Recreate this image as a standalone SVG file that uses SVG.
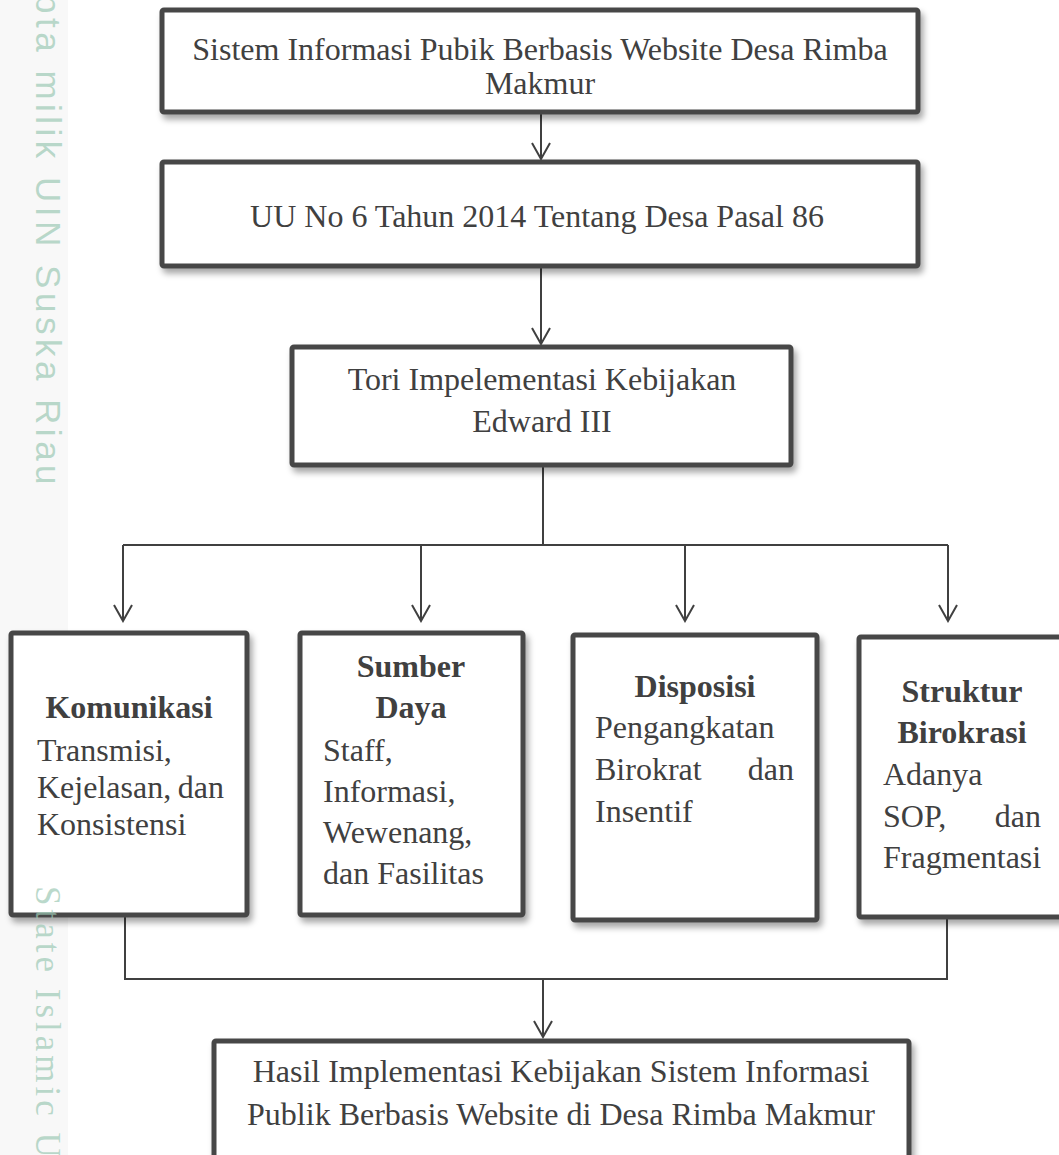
<svg xmlns="http://www.w3.org/2000/svg" width="1059" height="1155" viewBox="0 0 1059 1155">
<defs>
<filter id="sh" x="-10%" y="-10%" width="125%" height="130%">
<feDropShadow dx="3" dy="5" stdDeviation="3" flood-color="#000" flood-opacity="0.35"/>
</filter>
<marker id="ah" viewBox="-18 -11 20 22" refX="0" refY="0" markerWidth="20" markerHeight="22" markerUnits="userSpaceOnUse" orient="auto">
<path d="M-16,-9 L0,0 L-16,9" fill="none" stroke="#404040" stroke-width="2"/>
</marker>
</defs>
<style>
.box{fill:#fff;stroke:#464646;stroke-width:5;filter:url(#sh)}
.t{font-family:"Liberation Serif","Times New Roman",serif;font-size:32px;fill:#404040}
.c{text-anchor:middle}
.b{font-weight:bold}
.e{text-anchor:end}
.ln{fill:none;stroke:#404040;stroke-width:2}
.wm{font-size:35px;fill:#9cc8b4;fill-opacity:0.7}
</style>
<rect x="0" y="0" width="1059" height="1155" fill="#fff"/>
<rect x="0" y="0" width="68" height="1155" fill="#f8f8f8"/>
<g id="connectors">
<line class="ln" x1="541" y1="114" x2="541" y2="159" marker-end="url(#ah)"/>
<line class="ln" x1="541" y1="268" x2="541" y2="344" marker-end="url(#ah)"/>
<line class="ln" x1="543" y1="467" x2="543" y2="545"/>
<line class="ln" x1="123" y1="545" x2="948" y2="545"/>
<line class="ln" x1="123" y1="545" x2="123" y2="621" marker-end="url(#ah)"/>
<line class="ln" x1="421" y1="545" x2="421" y2="621" marker-end="url(#ah)"/>
<line class="ln" x1="685" y1="545" x2="685" y2="621" marker-end="url(#ah)"/>
<line class="ln" x1="948" y1="545" x2="948" y2="621" marker-end="url(#ah)"/>
<line class="ln" x1="125" y1="917" x2="125" y2="979"/>
<line class="ln" x1="947" y1="919" x2="947" y2="979"/>
<line class="ln" x1="124" y1="979" x2="948" y2="979"/>
<line class="ln" x1="543" y1="979" x2="543" y2="1037" marker-end="url(#ah)"/>
</g>
<g id="n1">
<rect class="box" x="162" y="10" width="756" height="102" rx="2"/>
<text class="t c" x="540" y="60">Sistem Informasi Pubik Berbasis Website Desa Rimba</text>
<text class="t c" x="540" y="94">Makmur</text>
</g>
<g id="n2">
<rect class="box" x="162" y="162" width="756" height="104" rx="2"/>
<text class="t c" x="537" y="227">UU No 6 Tahun 2014 Tentang Desa Pasal 86</text>
</g>
<g id="n3">
<rect class="box" x="292" y="347" width="499" height="118" rx="2"/>
<text class="t c" x="542" y="390">Tori Impelementasi Kebijakan</text>
<text class="t c" x="542" y="432">Edward III</text>
</g>
<g id="n4">
<rect class="box" x="11" y="633" width="236" height="282" rx="2"/>
<text class="t c b" x="129" y="718">Komunikasi</text>
<text class="t" x="37" y="761">Transmisi,</text>
<text class="t" x="37" y="798">Kejelasan,</text>
<text class="t e" x="224" y="798">dan</text>
<text class="t" x="37" y="835">Konsistensi</text>
</g>
<g id="n5">
<rect class="box" x="300" y="633" width="223" height="282" rx="2"/>
<text class="t c b" x="411" y="677">Sumber</text>
<text class="t c b" x="411" y="718">Daya</text>
<text class="t" x="323" y="761">Staff,</text>
<text class="t" x="323" y="802">Informasi,</text>
<text class="t" x="323" y="843">Wewenang,</text>
<text class="t" x="323" y="884">dan Fasilitas</text>
</g>
<g id="n6">
<rect class="box" x="573" y="635" width="244" height="285" rx="2"/>
<text class="t c b" x="695" y="697">Disposisi</text>
<text class="t" x="595" y="738">Pengangkatan</text>
<text class="t" x="595" y="780">Birokrat</text>
<text class="t e" x="794" y="780">dan</text>
<text class="t" x="595" y="822">Insentif</text>
</g>
<g id="n7">
<rect class="box" x="859" y="637" width="210" height="280" rx="2"/>
<text class="t c b" x="962" y="702">Struktur</text>
<text class="t c b" x="962" y="743">Birokrasi</text>
<text class="t" x="883" y="785">Adanya</text>
<text class="t" x="883" y="827">SOP,</text>
<text class="t e" x="1041" y="827">dan</text>
<text class="t" x="883" y="868">Fragmentasi</text>
</g>
<g id="n8">
<rect class="box" x="214" y="1041" width="695" height="140" rx="2"/>
<text class="t c" x="561" y="1082">Hasil Implementasi Kebijakan Sistem Informasi</text>
<text class="t c" x="561" y="1125">Publik Berbasis Website di Desa Rimba Makmur</text>
</g>
<g id="watermark">
<text class="wm" font-family="Liberation Sans, Arial, sans-serif" letter-spacing="4.5" transform="translate(36,-6) rotate(90)">pta milik UIN Suska Riau</text>
<text class="wm" font-family="Liberation Serif, Times New Roman, serif" letter-spacing="4" transform="translate(36,886) rotate(90)">State Islamic U</text>
</g>
</svg>
